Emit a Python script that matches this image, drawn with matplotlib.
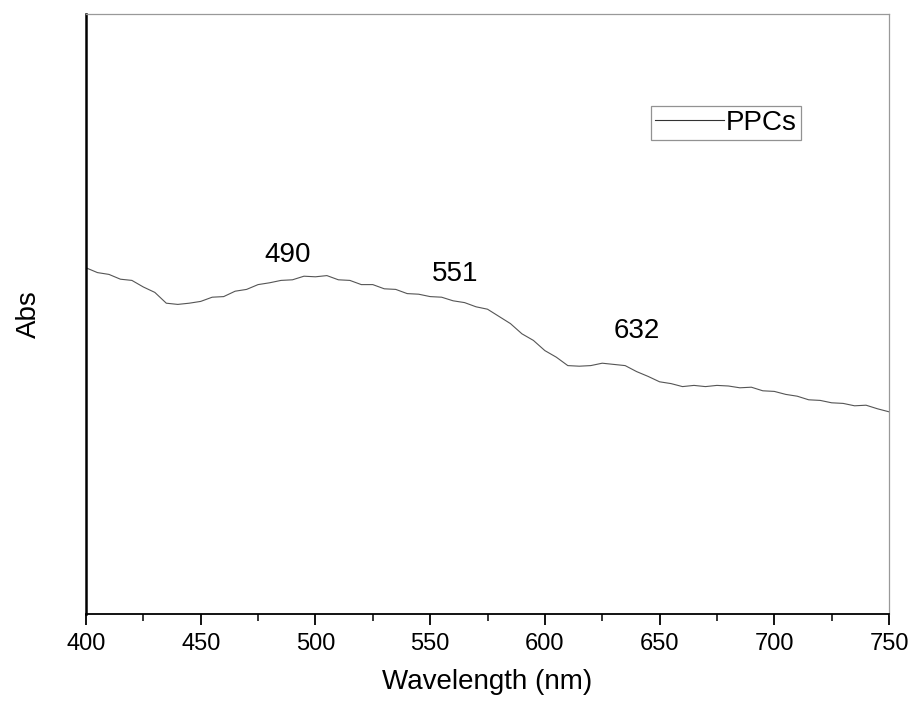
import matplotlib
matplotlib.use("Agg")
import matplotlib.pyplot as plt
import numpy as np

plt.rcParams['font.family'] = ['Liberation Sans', 'DejaVu Sans']

wavelength = list(range(400, 751, 5))
absorbance = [
    0.577, 0.569, 0.566, 0.558, 0.556, 0.545, 0.536, 0.518, 0.516, 0.518,
    0.521, 0.528, 0.529, 0.538, 0.541, 0.549, 0.552, 0.556, 0.557, 0.563,
    0.562, 0.564, 0.557, 0.556, 0.549, 0.549, 0.542, 0.541, 0.534, 0.533,
    0.529, 0.528, 0.522, 0.519, 0.512, 0.508, 0.496, 0.484, 0.467, 0.456,
    0.439, 0.428, 0.414, 0.413, 0.414, 0.418, 0.416, 0.414, 0.404, 0.396,
    0.387, 0.384, 0.379, 0.381, 0.379, 0.381, 0.380, 0.377, 0.378, 0.372,
    0.371, 0.366, 0.363, 0.357, 0.356, 0.352, 0.351, 0.347, 0.348, 0.342,
    0.337,
]
series_label = "PPCs"
peak_labels = ["490", "551", "632"]
peak_x = [488, 561, 640]
peak_y = [0.598, 0.567, 0.472]

fig = plt.figure(figsize=(9.14, 7.04), dpi=100)
ax = fig.add_axes([86/914, 1-614/704, 803/914, 600/704])

ax.plot(wavelength, absorbance, color='#555555', lw=0.8, label=series_label)

ax.set_xlim(400, 750)
ax.set_ylim(0, 1.0)
ax.set_xticks(range(400, 751, 50))
ax.set_xticks(range(425, 750, 50), minor=True)
ax.set_yticks([])
ax.tick_params(axis='x', which='major', direction='out', length=8, width=1.3, labelsize=17, pad=6)
ax.tick_params(axis='x', which='minor', direction='out', length=5, width=1.1)

for s in ['top', 'right']:
    ax.spines[s].set_color('#999999')
    ax.spines[s].set_linewidth(0.9)
ax.spines['left'].set_linewidth(1.8)
ax.spines['bottom'].set_linewidth(1.3)

ax.set_xlabel("Wavelength (nm)", fontsize=20, labelpad=10)
ax.set_ylabel("Abs", fontsize=20, labelpad=32)

for t, x, y in zip(peak_labels, peak_x, peak_y):
    ax.text(x, y, t, fontsize=20, ha='center', va='center')

leg = ax.legend(loc='upper right', bbox_to_anchor=(0.890, 0.847), fontsize=20,
                frameon=True, fancybox=False, handlelength=2.5, handletextpad=0.05,
                borderpad=0.15, borderaxespad=0)
leg.get_frame().set_edgecolor('#777777')
leg.get_frame().set_linewidth(0.9)
for l in leg.get_lines():
    l.set_color('#333333')

fig.savefig("out.png", dpi=100)
